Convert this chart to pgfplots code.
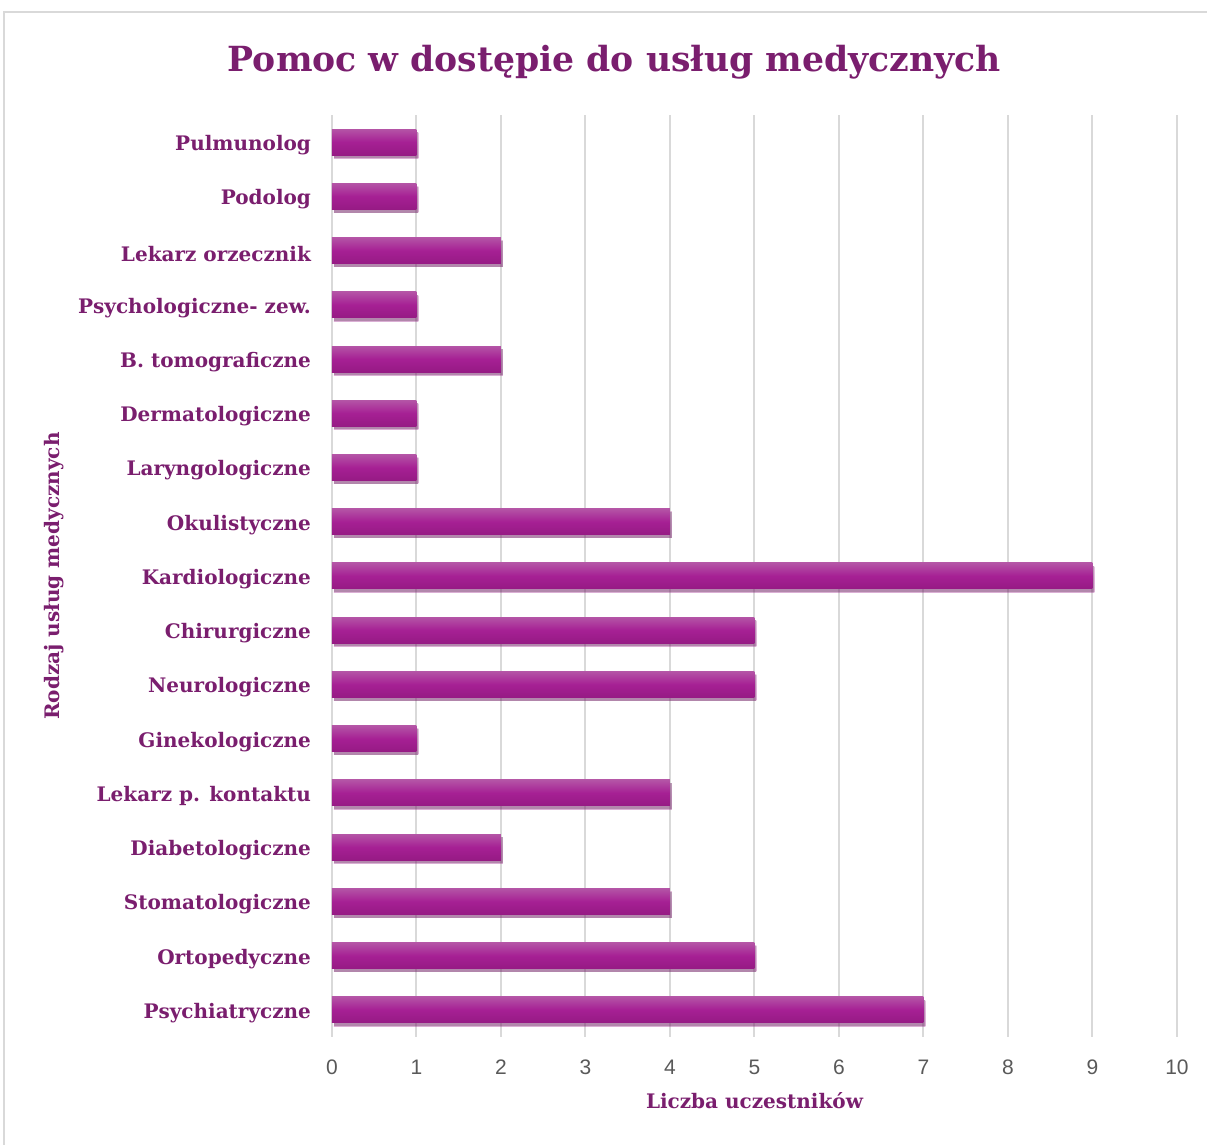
\documentclass[border=0pt]{standalone}
\usepackage{fontspec}
\setmainfont{DejaVu Serif}
\newfontfamily\tickfont{Liberation Sans}
\usepackage{pgfplots}
\pgfplotsset{compat=1.18}
\usetikzlibrary{shadows}
\definecolor{ttl}{RGB}{122,30,110}
\definecolor{bartop}{RGB}{180,84,166}
\definecolor{barmid}{RGB}{166,32,148}
\definecolor{barbot}{RGB}{150,26,132}
\definecolor{gridc}{RGB}{217,217,217}
\definecolor{tickc}{RGB}{89,89,89}
\pgfplotsset{mybar/.style={draw=none, top color=bartop, bottom color=barbot, middle color=barmid,
  drop shadow={shadow xshift=1pt, shadow yshift=-1.6pt, opacity=0.35, fill=black!70}}}
\begin{document}
\begin{tikzpicture}
\useasboundingbox (-166pt,-54pt) rectangle (437.5pt,518.5pt);
\draw[gridc, line width=1pt] (-164pt,-60pt) -- (-164pt,512.5pt) -- (445pt,512.5pt);
\begin{axis}[
  scale only axis,
  width=422.5pt, height=461pt,
  xbar, bar width=13pt, bar shift=0pt,
  xmin=0, xmax=10,
  ymin=-0.5, ymax=16.5,
  xtick={0,...,10},
  ytick={0,...,16},
  yticklabels={Psychiatryczne, Ortopedyczne, Stomatologiczne, Diabetologiczne, Lekarz p. kontaktu, Ginekologiczne, Neurologiczne, Chirurgiczne, Kardiologiczne, Okulistyczne, Laryngologiczne, Dermatologiczne, B. tomograficzne, Psychologiczne- zew., Lekarz orzecznik, Podolog, Pulmunolog},
  major tick length=0pt,
  axis line style={draw=none},
  xmajorgrids,
  major grid style={draw=gridc, line width=1pt},
  /pgf/number format/assume math mode=true,
  xticklabel style={font=\tickfont\fontsize{10.5}{12}\selectfont, text=tickc, yshift=-8pt},
  yticklabel style={font=\bfseries\fontsize{10}{12}\selectfont, text=ttl, xshift=-7pt, yshift=-1.5pt},
  xlabel={Liczba uczestników},
  xlabel style={font=\bfseries\fontsize{10}{12}\selectfont, text=ttl, yshift=-2pt},
  ylabel={Rodzaj usług medycznych},
  ylabel style={font=\bfseries\fontsize{10}{12}\selectfont, text=ttl},
  title={Pomoc w dostępie do usług medycznych},
  title style={font=\bfseries\fontsize{17.3}{20}\selectfont, text=ttl, at={(axis description cs:0.334,1.0177)}, anchor=south},
  clip=false,
]
\addplot[mybar] coordinates {(7,0)};
\addplot[mybar] coordinates {(5,1)};
\addplot[mybar] coordinates {(4,2)};
\addplot[mybar] coordinates {(2,3)};
\addplot[mybar] coordinates {(4,4)};
\addplot[mybar] coordinates {(1,5)};
\addplot[mybar] coordinates {(5,6)};
\addplot[mybar] coordinates {(5,7)};
\addplot[mybar] coordinates {(9,8)};
\addplot[mybar] coordinates {(4,9)};
\addplot[mybar] coordinates {(1,10)};
\addplot[mybar] coordinates {(1,11)};
\addplot[mybar] coordinates {(2,12)};
\addplot[mybar] coordinates {(1,13)};
\addplot[mybar] coordinates {(2,14)};
\addplot[mybar] coordinates {(1,15)};
\addplot[mybar] coordinates {(1,16)};
\end{axis}
\end{tikzpicture}
\end{document}
